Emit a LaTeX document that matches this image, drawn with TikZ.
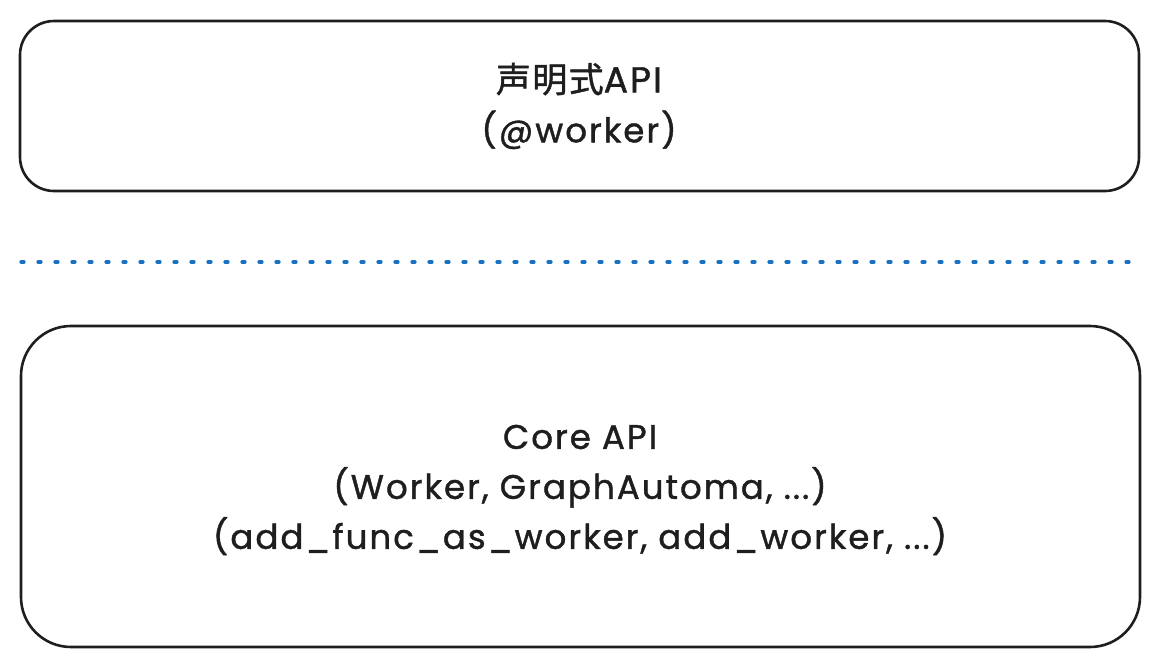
\documentclass[tikz,border=0pt]{standalone}
\usepackage{fontspec}
\setmainfont{Poppins}[LetterSpace=6,FakeBold=1.2]
\newfontfamily\cjk{Noto Sans CJK SC}[FakeBold=1.2,LetterSpace=4]
\definecolor{ink}{HTML}{1E1E1E}
\definecolor{blueline}{HTML}{1971C2}
\begin{document}
\begin{tikzpicture}[x=1pt,y=-1pt,
  box/.style={draw=ink,line width=2.6pt,rounded corners=#1},
  lbl/.style={text=ink,font=\fontsize{34}{50}\selectfont,align=center},
  sep/.style={draw=blueline,line width=3.2pt,line cap=round,dash pattern=on 3pt off 14pt}]
\useasboundingbox (0,0) rectangle (1159,667);
\path[box=34pt] (20,21) rectangle (1139,191);
\node[lbl] (top) at (579,106) {{\cjk\fontsize{35}{50}\selectfont 声明式}{\LARGE\fontsize{36}{50}\selectfont API}\\(@worker)};
\coordinate (s1) at (21,262);
\coordinate (s2) at (1130,262);
\draw[sep] (s1) -- (s2);
\path[box=50pt] (21,326) rectangle (1140,647);
\node[lbl] (bottom) at (580,490) {Core API\\(Worker, GraphAutoma, ...)\\(add\_func\_as\_worker, add\_worker, ...)};
\end{tikzpicture}
\end{document}
